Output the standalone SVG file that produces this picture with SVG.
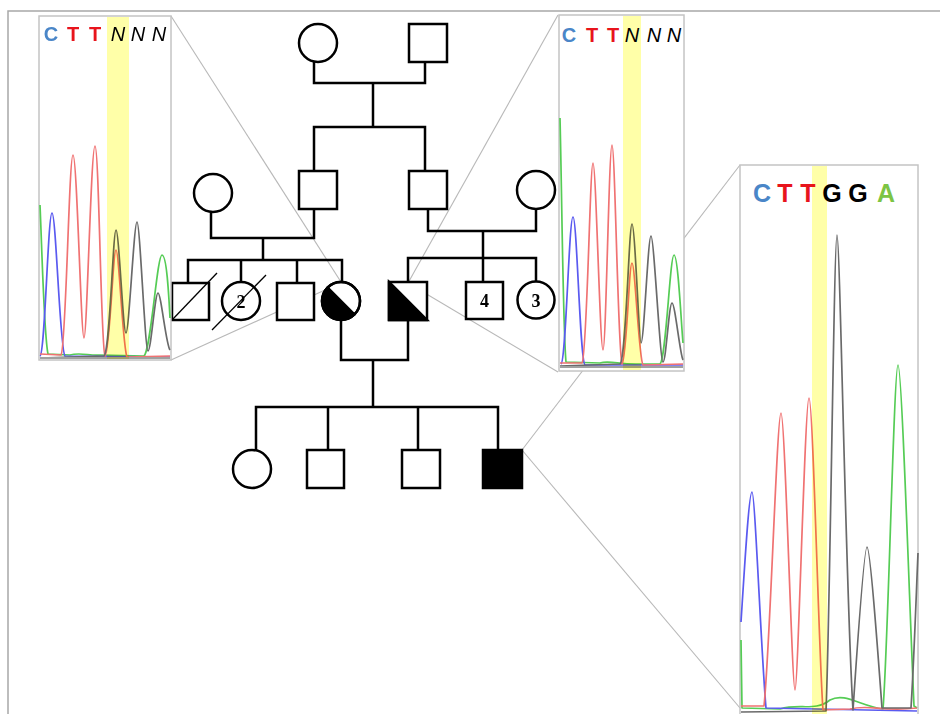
<svg xmlns="http://www.w3.org/2000/svg" width="940" height="714" viewBox="0 0 940 714">
<style>
.ped{fill:#fff;stroke:#000;stroke-width:2.5}
.ln{fill:none;stroke:#000;stroke-width:2.5;stroke-linejoin:miter}
.blk{fill:#000;stroke:#000;stroke-width:2.5}
.slash{fill:none;stroke:#000;stroke-width:1.3}
.num{font-family:"Liberation Serif",serif;font-weight:bold;font-size:18px;text-anchor:middle}
.cn{fill:none;stroke:#b8b8b8;stroke-width:1.1}
.box{fill:#fff;stroke:#c4c4c4;stroke-width:1.5}
.tr{fill:none;stroke-width:1.7;stroke-linejoin:round}
.b{stroke:#5a5af0}.r{stroke:#f07272}.g{stroke:#55cc55}.k{stroke:#6a6a6a}
.band{fill:#ffffa8;mix-blend-mode:multiply}
.bs{font-family:"Liberation Sans",Arial,sans-serif;font-weight:bold;text-anchor:middle}
.it{font-family:"Liberation Sans",Arial,sans-serif;font-style:italic;text-anchor:middle;fill:#000}
.cC{fill:#4a86c8}.cT{fill:#e8141c}.cG{fill:#000}.cA{fill:#7cc444}
</style>
<rect width="940" height="714" fill="#fff"/>
<path d="M8,714 V11 H940" fill="none" stroke="#a8a8a8" stroke-width="1.5"/>

<g id="connectors">
<path class="cn" d="M171,16 L341,282"/>
<path class="cn" d="M171,360 L325,290"/>
<path class="cn" d="M558,15 L408,283"/>
<path class="cn" d="M558,372 L408,283"/>
<path class="cn" d="M522,450 L740,165"/>
<path class="cn" d="M522,450 L740,708"/>
</g>

<g id="pedigree-lines">
<path class="ln" d="M314,62 V83 H425 V62"/>
<path class="ln" d="M373,83 V127"/>
<path class="ln" d="M314,171 V127 H425 V171"/>
<path class="ln" d="M211,212 V238 H314 V209"/>
<path class="ln" d="M263,238 V260"/>
<path class="ln" d="M188,283 V260 H342 V282"/>
<path class="ln" d="M241,260 V282"/>
<path class="ln" d="M297,260 V283"/>
<path class="ln" d="M428,209 V231 H536 V209"/>
<path class="ln" d="M483,231 V258"/>
<path class="ln" d="M408,282 V258 H536 V281"/>
<path class="ln" d="M483,258 V282"/>
<path class="ln" d="M341,320 V360 H408 V320"/>
<path class="ln" d="M373,360 V407"/>
<path class="ln" d="M256,450 V407 H498 V450"/>
<path class="ln" d="M328,407 V450"/>
<path class="ln" d="M418,407 V450"/>
</g>

<g id="I-1"><circle class="ped" cx="318" cy="43" r="19"/></g>
<g id="I-2"><rect class="ped" x="409" y="24" width="38" height="38"/></g>
<g id="II-1"><circle class="ped" cx="213" cy="193" r="19"/></g>
<g id="II-2"><rect class="ped" x="299" y="171" width="38" height="38"/></g>
<g id="II-3"><rect class="ped" x="409" y="171" width="38" height="38"/></g>
<g id="II-4"><circle class="ped" cx="536" cy="190" r="19"/></g>
<g id="III-1"><rect class="ped" x="172" y="283" width="37" height="37"/><path class="slash" d="M172,320 L217,273"/></g>
<g id="III-2"><circle class="ped" cx="241" cy="301" r="19"/><text class="num" x="241" y="307.5">2</text><path class="slash" d="M212,330 L266,275"/></g>
<g id="III-3"><rect class="ped" x="277" y="283" width="37" height="37"/></g>
<g id="III-4"><circle class="ped" cx="341" cy="301" r="19"/><path class="blk" d="M327.6,287.6 A19,19 0 0,0 354.4,314.4 Z"/><circle cx="341" cy="301" r="19" fill="none" stroke="#000" stroke-width="2.5"/></g>
<g id="III-5"><rect class="ped" x="389" y="282" width="38" height="38"/><path class="blk" d="M389,282 L427,320 L389,320 Z"/></g>
<g id="III-6"><rect class="ped" x="466" y="282" width="37" height="37"/><text class="num" x="484.5" y="307">4</text></g>
<g id="III-7"><circle class="ped" cx="536" cy="300" r="18.5"/><text class="num" x="536" y="306.5">3</text></g>
<g id="IV-1"><circle class="ped" cx="252" cy="469" r="19"/></g>
<g id="IV-2"><rect class="ped" x="307" y="450" width="37" height="38"/></g>
<g id="IV-3"><rect class="ped" x="402" y="450" width="38" height="38"/></g>
<g id="IV-4"><rect class="blk" x="483" y="450" width="39" height="38"/></g>

<g id="chrom-left">
<rect class="box" x="39" y="16" width="132" height="344"/>
<path class="tr g" d="M40,205 C42,250 44,335 48,354 L70,355 C80,352 90,356 100,355 L144,356 C151,350 157,255 162,255 C167,255 169,300 170,318"/>
<path class="tr b" d="M40,356 C45,354 48,213 52,213 C56,213 60,352 65,356 L170,357"/>
<path class="tr r" d="M40,354 L61,355 C66,350 69,155 73,155 C77,155 81,338 84,338 C87,338 91,146 95,146 C99,146 101,350 105,356 C110,350 113,250 116,250 C119,250 123,350 127,357 L170,356"/>
<path class="tr k" d="M40,358 L104,356 C110,352 113,230 116,230 C119,230 123,333 126,333 C129,333 134,222 137,222 C140,222 145,351 148,351 C151,351 155,293 158,293 C161,293 166,345 170,350"/>
<rect x="40" y="357" width="130" height="2" fill="#a0a0a0"/>
<text class="bs cC" x="51" y="41" font-size="20">C</text>
<text class="bs cT" x="73" y="41" font-size="20">T</text>
<text class="bs cT" x="95" y="41" font-size="20">T</text>
<text class="it" x="118" y="41" font-size="20">N</text>
<text class="it" x="138" y="41" font-size="20">N</text>
<text class="it" x="159" y="41" font-size="20">N</text>
<rect class="band" x="107" y="17" width="22" height="342"/>
</g>

<g id="chrom-right-top">
<rect class="box" x="559" y="15" width="125" height="356"/>
<path class="tr g" d="M560,118 C562,200 563,330 566,362 L600,363 C610,360 620,365 640,364 L660,364 C666,360 670,255 674,255 C678,255 681,320 683,343"/>
<path class="tr b" d="M561,364 C566,362 569,217 573,217 C577,217 580,362 585,365 L683,365"/>
<path class="tr r" d="M560,363 L582,363 C587,358 590,163 593,163 C596,163 600,350 603,350 C606,350 609,145 612,145 C615,145 618,352 622,364 C627,355 629,263 632,263 C635,263 639,360 643,365 L683,364"/>
<path class="tr k" d="M560,366 L620,364 C626,360 629,224 632,224 C635,224 639,343 641,343 C644,343 648,236 651,236 C654,236 660,362 663,362 C666,362 669,303 672,303 C675,303 680,355 683,360"/>
<rect x="560" y="366" width="123" height="2" fill="#a0a0a0"/>
<text class="bs cC" x="569" y="42" font-size="20">C</text>
<text class="bs cT" x="592" y="42" font-size="20">T</text>
<text class="bs cT" x="613" y="42" font-size="20">T</text>
<text class="it" x="632" y="42" font-size="20">N</text>
<text class="it" x="654" y="42" font-size="20">N</text>
<text class="it" x="674" y="42" font-size="20">N</text>
<rect class="band" x="623" y="16" width="18" height="354"/>
</g>

<g id="chrom-big">
<rect class="box" x="740" y="165" width="178" height="560"/>
<path class="tr g" d="M741,640 L742,708 L780,709 C800,703 815,712 830,700 C845,692 860,706 883,709 C888,650 894,365 898,365 C902,365 910,620 914,706 L917,708"/>
<path class="tr b" d="M741,622 C745,560 749,492 752,492 C755,492 761,650 766,708 L917,711"/>
<path class="tr r" d="M741,706 L764,706 C770,650 777,413 781,413 C785,413 792,690 795,690 C798,690 805,398 809,398 C813,398 819,660 823,710 L850,709 C870,704 880,712 917,708"/>
<path class="tr k" d="M741,712 L826,711 C830,620 834,235 837,235 C840,235 846,600 853,710 C857,650 864,547 867,547 C870,547 877,640 882,708 L911,708 C914,660 916,600 918,553"/>
<text class="bs cC" x="762" y="202" font-size="25">C</text>
<text class="bs cT" x="785" y="202" font-size="25">T</text>
<text class="bs cT" x="808" y="202" font-size="25">T</text>
<text class="bs cG" x="832" y="202" font-size="25">G</text>
<text class="bs cG" x="858" y="202" font-size="25">G</text>
<text class="bs cA" x="886" y="202" font-size="25">A</text>
<rect class="band" x="812" y="166" width="15" height="548"/>
</g>
</svg>
